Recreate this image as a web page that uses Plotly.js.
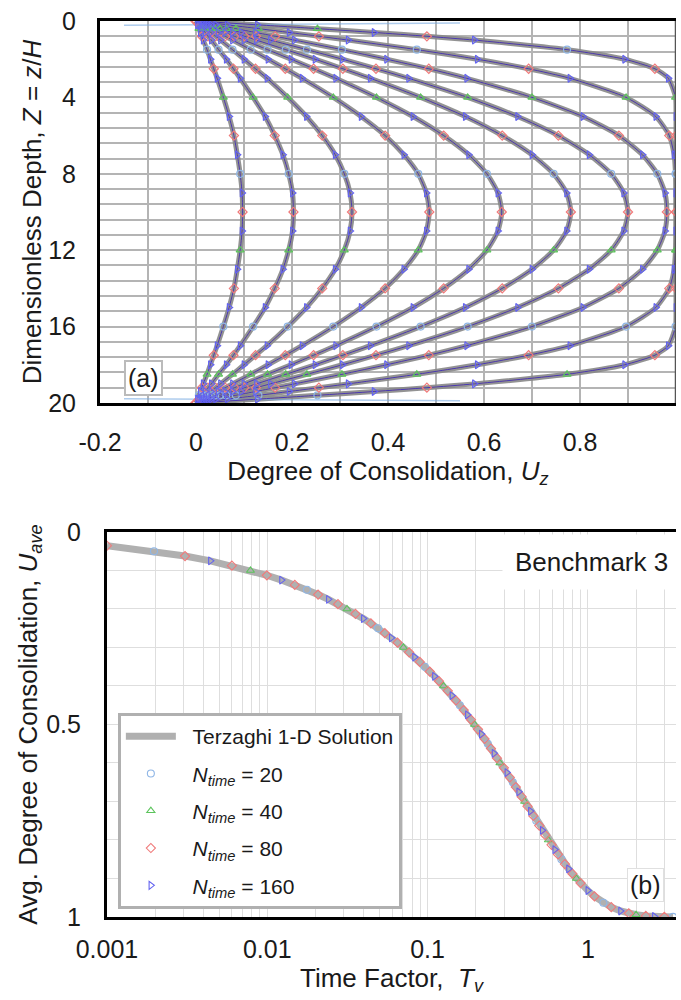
<!DOCTYPE html>
<html><head><meta charset="utf-8">
<script src="https://cdn.plot.ly/plotly-3.0.1.min.js"></script>
<style>html,body{margin:0;padding:0;background:#fff}#chart{width:681px;height:1000px}</style>
</head><body><div id="chart"></div>
<script>
// ---------- Panel (a): isochrones, dimensionless depth Z vs Uz ----------
const depthZ = [0,0.2,0.4,0.6,0.8,1,1.5,2,2.5,3,4,5,6,7,8,9,10,11,12,13,14,15,16,17,17.5,18,18.5,19,19.2,19.4,19.6,19.8,20];
const iso1  = [0,0.128,0.253,0.371,0.481,0.580,0.773,0.893,0.956,0.984,0.999,1,1,1,1,1,1,1,1,1,1,1,0.999,0.984,0.956,0.893,0.773,0.580,0.481,0.371,0.253,0.128,0];
const iso2  = [0,0.065,0.130,0.194,0.256,0.317,0.460,0.586,0.693,0.779,0.896,0.958,0.986,0.996,0.999,1,1,1,0.999,0.996,0.986,0.958,0.896,0.779,0.693,0.586,0.460,0.317,0.256,0.194,0.130,0.065,0];
const iso3  = [0,0.041,0.083,0.124,0.165,0.205,0.304,0.397,0.485,0.564,0.700,0.806,0.881,0.930,0.961,0.977,0.981,0.977,0.961,0.930,0.881,0.806,0.700,0.564,0.485,0.397,0.304,0.205,0.165,0.124,0.083,0.041,0];
const iso4  = [0,0.031,0.063,0.094,0.125,0.155,0.231,0.305,0.375,0.443,0.566,0.670,0.755,0.819,0.865,0.891,0.900,0.891,0.865,0.819,0.755,0.670,0.566,0.443,0.375,0.305,0.231,0.155,0.125,0.094,0.063,0.031,0];
const iso5  = [0,0.025,0.050,0.076,0.101,0.126,0.187,0.248,0.306,0.363,0.468,0.561,0.638,0.700,0.745,0.772,0.781,0.772,0.745,0.700,0.638,0.561,0.468,0.363,0.306,0.248,0.187,0.126,0.101,0.076,0.050,0.025,0];
const iso6  = [0,0.020,0.040,0.060,0.080,0.100,0.149,0.198,0.245,0.291,0.376,0.452,0.516,0.568,0.606,0.629,0.637,0.629,0.606,0.568,0.516,0.452,0.376,0.291,0.245,0.198,0.149,0.100,0.080,0.060,0.040,0.020,0];
const iso7  = [0,0.015,0.031,0.046,0.061,0.076,0.114,0.150,0.186,0.221,0.286,0.344,0.394,0.433,0.463,0.480,0.486,0.480,0.463,0.433,0.394,0.344,0.286,0.221,0.186,0.150,0.114,0.076,0.061,0.046,0.031,0.015,0];
const iso8  = [0,0.010,0.020,0.031,0.041,0.051,0.076,0.100,0.124,0.148,0.191,0.230,0.263,0.290,0.309,0.321,0.325,0.321,0.309,0.290,0.263,0.230,0.191,0.148,0.124,0.100,0.076,0.051,0.041,0.031,0.020,0.010,0];
const iso9  = [0,0.006,0.013,0.019,0.025,0.032,0.047,0.063,0.078,0.092,0.119,0.144,0.164,0.181,0.193,0.201,0.203,0.201,0.193,0.181,0.164,0.144,0.119,0.092,0.078,0.063,0.047,0.032,0.025,0.019,0.013,0.006,0];
const iso10 = [0,0.003,0.006,0.009,0.012,0.015,0.023,0.030,0.037,0.044,0.057,0.069,0.079,0.086,0.092,0.096,0.097,0.096,0.092,0.086,0.079,0.069,0.057,0.044,0.037,0.030,0.023,0.015,0.012,0.009,0.006,0.003,0];
// faint early-time N_time = 20 overshoot near the drained boundaries
const overshootU    = [-0.15,0.0,0.25,0.55];
const overshootZTop = [0.22,0.19,0.15,0.11];
const overshootZBot = [19.78,19.81,19.85,19.89];

// ---------- Panel (b): average degree of consolidation vs time factor ----------
const timeFactor = [0.001,0.001963,0.003068,0.004418,0.006013,0.007854,0.00994,0.01227,0.01485,0.01767,0.02074,0.02405,0.02761,0.03142,0.03547,0.03976,0.0443,0.04909,0.05412,0.0594,0.06492,0.07069,0.0767,0.08296,0.08946,0.09621,0.1032,0.1104,0.1179,0.1257,0.1336,0.1419,0.1503,0.159,0.168,0.1772,0.1867,0.1963,0.2063,0.2165,0.2269,0.2376,0.2485,0.2597,0.2711,0.2827,0.2991,0.3124,0.3262,0.3404,0.3551,0.3704,0.3863,0.4029,0.4201,0.4381,0.457,0.4768,0.4975,0.5194,0.5426,0.5672,0.5934,0.6213,0.6513,0.6837,0.719,0.7577,0.8004,0.8481,0.9,1.0,1.1,1.25,1.4,1.6,1.8,2.0,2.3,2.6,3.0,3.4];
const uAve = [0.0357,0.05,0.0625,0.075,0.0875,0.1,0.1125,0.125,0.1375,0.15,0.1625,0.175,0.1875,0.2,0.2125,0.225,0.2375,0.25,0.2625,0.275,0.2875,0.3,0.3125,0.325,0.3375,0.35,0.3625,0.375,0.3875,0.4,0.4125,0.425,0.4375,0.45,0.4625,0.475,0.4875,0.5,0.5125,0.525,0.5375,0.55,0.5625,0.575,0.5875,0.6,0.6125,0.625,0.6375,0.65,0.6625,0.675,0.6875,0.7,0.7125,0.725,0.7375,0.75,0.7625,0.775,0.7875,0.8,0.8125,0.825,0.8375,0.85,0.8625,0.875,0.8875,0.9,0.912,0.9312,0.9463,0.9629,0.9744,0.9844,0.9905,0.9942,0.9972,0.9987,0.9995,0.9998];

// ---------- labels ----------
const xTicksA = [-0.2,0,0.2,0.4,0.6,0.8,1];
const xTickTextA = ['-0.2','0','0.2','0.4','0.6','0.8','1'];
const yTicksA = [0,4,8,12,16,20];
const xTicksB = [0.001,0.01,0.1,1];
const xTickTextB = ['0.001','0.01','0.1','1'];
const yTicksB = [0,0.5,1];
const yTickTextB = ['0','0.5','1'];
const analyticName = '\u00a0\u00a0Terzaghi 1-D Solution';
const nTimeLabels = ['20','40','80','160'];

const isochrones = [iso1,iso2,iso3,iso4,iso5,iso6,iso7,iso8,iso9,iso10];

const seriesStyle = [
  {symbol:'circle-open',        color:'#8fb6e6', line:'#9cc0ea', pickA:i=>i%8===6, pickB:i=>i%8===1},
  {symbol:'triangle-up-open',   color:'#5cc45c', line:'#4fb84f', pickA:i=>i%8===2, pickB:i=>i%8===5},
  {symbol:'diamond-open',       color:'#f07a7a', line:'#e06a6a', pickA:i=>i%4===0, pickB:i=>i%2===0},
  {symbol:'triangle-right-open',color:'#6464f0', line:'#3434c0', pickA:i=>i%2===1, pickB:i=>i%4===3}
];

const traces = [];
isochrones.forEach(c => traces.push({
  x:c, y:depthZ, xaxis:'x', yaxis:'y', mode:'lines', showlegend:false, hoverinfo:'skip',
  line:{color:'rgba(135,135,135,0.9)', width:5, shape:'spline', smoothing:0.6}
}));
[overshootZTop, overshootZBot].forEach(zz => traces.push({
  x:overshootU, y:zz, xaxis:'x', yaxis:'y', mode:'lines', showlegend:false, hoverinfo:'skip',
  line:{color:'rgba(120,170,225,0.6)', width:1.5}
}));
seriesStyle.forEach(s => {
  const xs=[], ys=[];
  isochrones.forEach(c => { c.forEach((u,i)=>{xs.push(u); ys.push(depthZ[i]);}); xs.push(null); ys.push(null); });
  traces.push({x:xs, y:ys, xaxis:'x', yaxis:'y', mode:'lines', showlegend:false, hoverinfo:'skip',
    line:{color:s.line, width:0.9, shape:'spline', smoothing:0.6}});
});
seriesStyle.forEach(s => {
  const xs=[], ys=[];
  isochrones.forEach(c => c.forEach((u,i)=>{ if(s.pickA(i)){xs.push(u); ys.push(depthZ[i]);} }));
  traces.push({x:xs, y:ys, xaxis:'x', yaxis:'y', mode:'markers', showlegend:false, hoverinfo:'skip',
    marker:{symbol:s.symbol, size:7, color:s.color, line:{color:s.color, width:1.2}}});
});
traces.push({x:timeFactor, y:uAve, xaxis:'x2', yaxis:'y2', mode:'lines', name:analyticName,
  legendgroup:'g0', line:{color:'#b0b0b0', width:7}});
seriesStyle.forEach((s,k) => {
  const xs=[], ys=[];
  timeFactor.forEach((t,i)=>{ if(s.pickB(i)){xs.push(t); ys.push(uAve[i]);} });
  traces.push({x:xs, y:ys, xaxis:'x2', yaxis:'y2', mode:'markers', legendgroup:'g'+(k+1),
    name:'\u00a0\u00a0<i>N</i><sub><i>time</i></sub> = ' + nTimeLabels[k],
    marker:{symbol:s.symbol, size:7, color:s.color, line:{color:s.color, width:1.1}}});
});

const gridA = '#b4b4b4';
const gridB = '#dedede';
const titleFont = {size:26};
const layout = {
  width:681, height:1000,
  margin:{l:100, r:5, t:21, b:83},
  paper_bgcolor:'#fff', plot_bgcolor:'#fff',
  font:{family:'"Liberation Sans", Arial, sans-serif', size:25, color:'#1a1a1a'},
  showlegend:true,
  legend:{x:0.031, y:0.2277, xanchor:'left', yanchor:'top', bgcolor:'#fff',
    bordercolor:'#b0b0b0', borderwidth:3, font:{size:21}, itemwidth:50,
    traceorder:'grouped', tracegroupgap:7},
  xaxis:{domain:[0,1], anchor:'y', range:[-0.2,1], tickmode:'array', tickvals:xTicksA, ticktext:xTickTextA,
    showgrid:true, gridcolor:gridA, gridwidth:2, zeroline:false,
    minor:{dtick:0.1, tick0:0, showgrid:true, gridcolor:gridA, gridwidth:2, ticks:''},
    showline:true, linecolor:'#000', linewidth:3, mirror:true,
    ticks:'outside', ticklen:15, tickcolor:'rgba(0,0,0,0)',
    title:{text:'Degree of Consolidation, <i>U</i><sub><i>z</i></sub>', standoff:4, font:titleFont}},
  yaxis:{domain:[0.5737,1], anchor:'x', range:[20,0], tickmode:'array', tickvals:yTicksA,
    showgrid:true, gridcolor:gridA, gridwidth:2, zeroline:false,
    minor:{dtick:0.8, tick0:0, showgrid:true, gridcolor:gridA, gridwidth:2, ticks:''},
    showline:true, linecolor:'#000', linewidth:3,
    ticks:'outside', ticklen:16, tickcolor:'rgba(0,0,0,0)',
    title:{text:'Dimensionless Depth, <i>Z</i> = <i>z</i>/<i>H</i>', standoff:0, font:titleFont}},
  xaxis2:{domain:[0.01215,1], anchor:'y2', type:'log', range:[-3,0.55], tickmode:'array', tickvals:xTicksB, ticktext:xTickTextB,
    showgrid:true, gridcolor:gridB, gridwidth:1, zeroline:false,
    minor:{dtick:'D1', showgrid:true, gridcolor:gridB, gridwidth:1, ticks:''},
    showline:true, linecolor:'#000', linewidth:3, mirror:true,
    ticks:'outside', ticklen:8, tickcolor:'rgba(0,0,0,0)',
    title:{text:'Time Factor,  <i>T</i><sub><i>v</i></sub>', standoff:2, font:titleFont}},
  yaxis2:{domain:[0,0.4297], anchor:'x2', range:[1,0], tickmode:'array', tickvals:yTicksB, ticktext:yTickTextB,
    showgrid:true, gridcolor:gridB, gridwidth:1, zeroline:false,
    minor:{dtick:0.1, tick0:0, showgrid:true, gridcolor:gridB, gridwidth:1, ticks:''},
    showline:true, linecolor:'#000', linewidth:3,
    ticks:'outside', ticklen:18, tickcolor:'rgba(0,0,0,0)',
    title:{text:'Avg. Degree of Consolidation, <i>U</i><sub><i>ave</i></sub>', standoff:0, font:titleFont}},
  shapes:[
    {type:'line', xref:'x', yref:'y domain', x0:1, x1:1, y0:0, y1:1, line:{color:'#555', width:2.5}}
  ],
  annotations:[
    {xref:'x', yref:'y', x:-0.11, y:18.7, text:'(a)', showarrow:false, font:{size:25},
      bgcolor:'#fff', bordercolor:'#bbbbbb', borderwidth:2, borderpad:2},
    {xref:'x2', yref:'y2', x:0.36, y:0.917, text:'(b)', showarrow:false, font:{size:25},
      bgcolor:'#fff', bordercolor:'#e0e0e0', borderwidth:1, borderpad:2},
    {xref:'x2', yref:'y2', x:0.02, y:0.078, text:'Benchmark 3', showarrow:false, font:{size:26},
      bgcolor:'#fff', borderpad:12}
  ]
};

Plotly.newPlot('chart', traces, layout, {staticPlot:true, displayModeBar:false});
</script>
</body></html>
